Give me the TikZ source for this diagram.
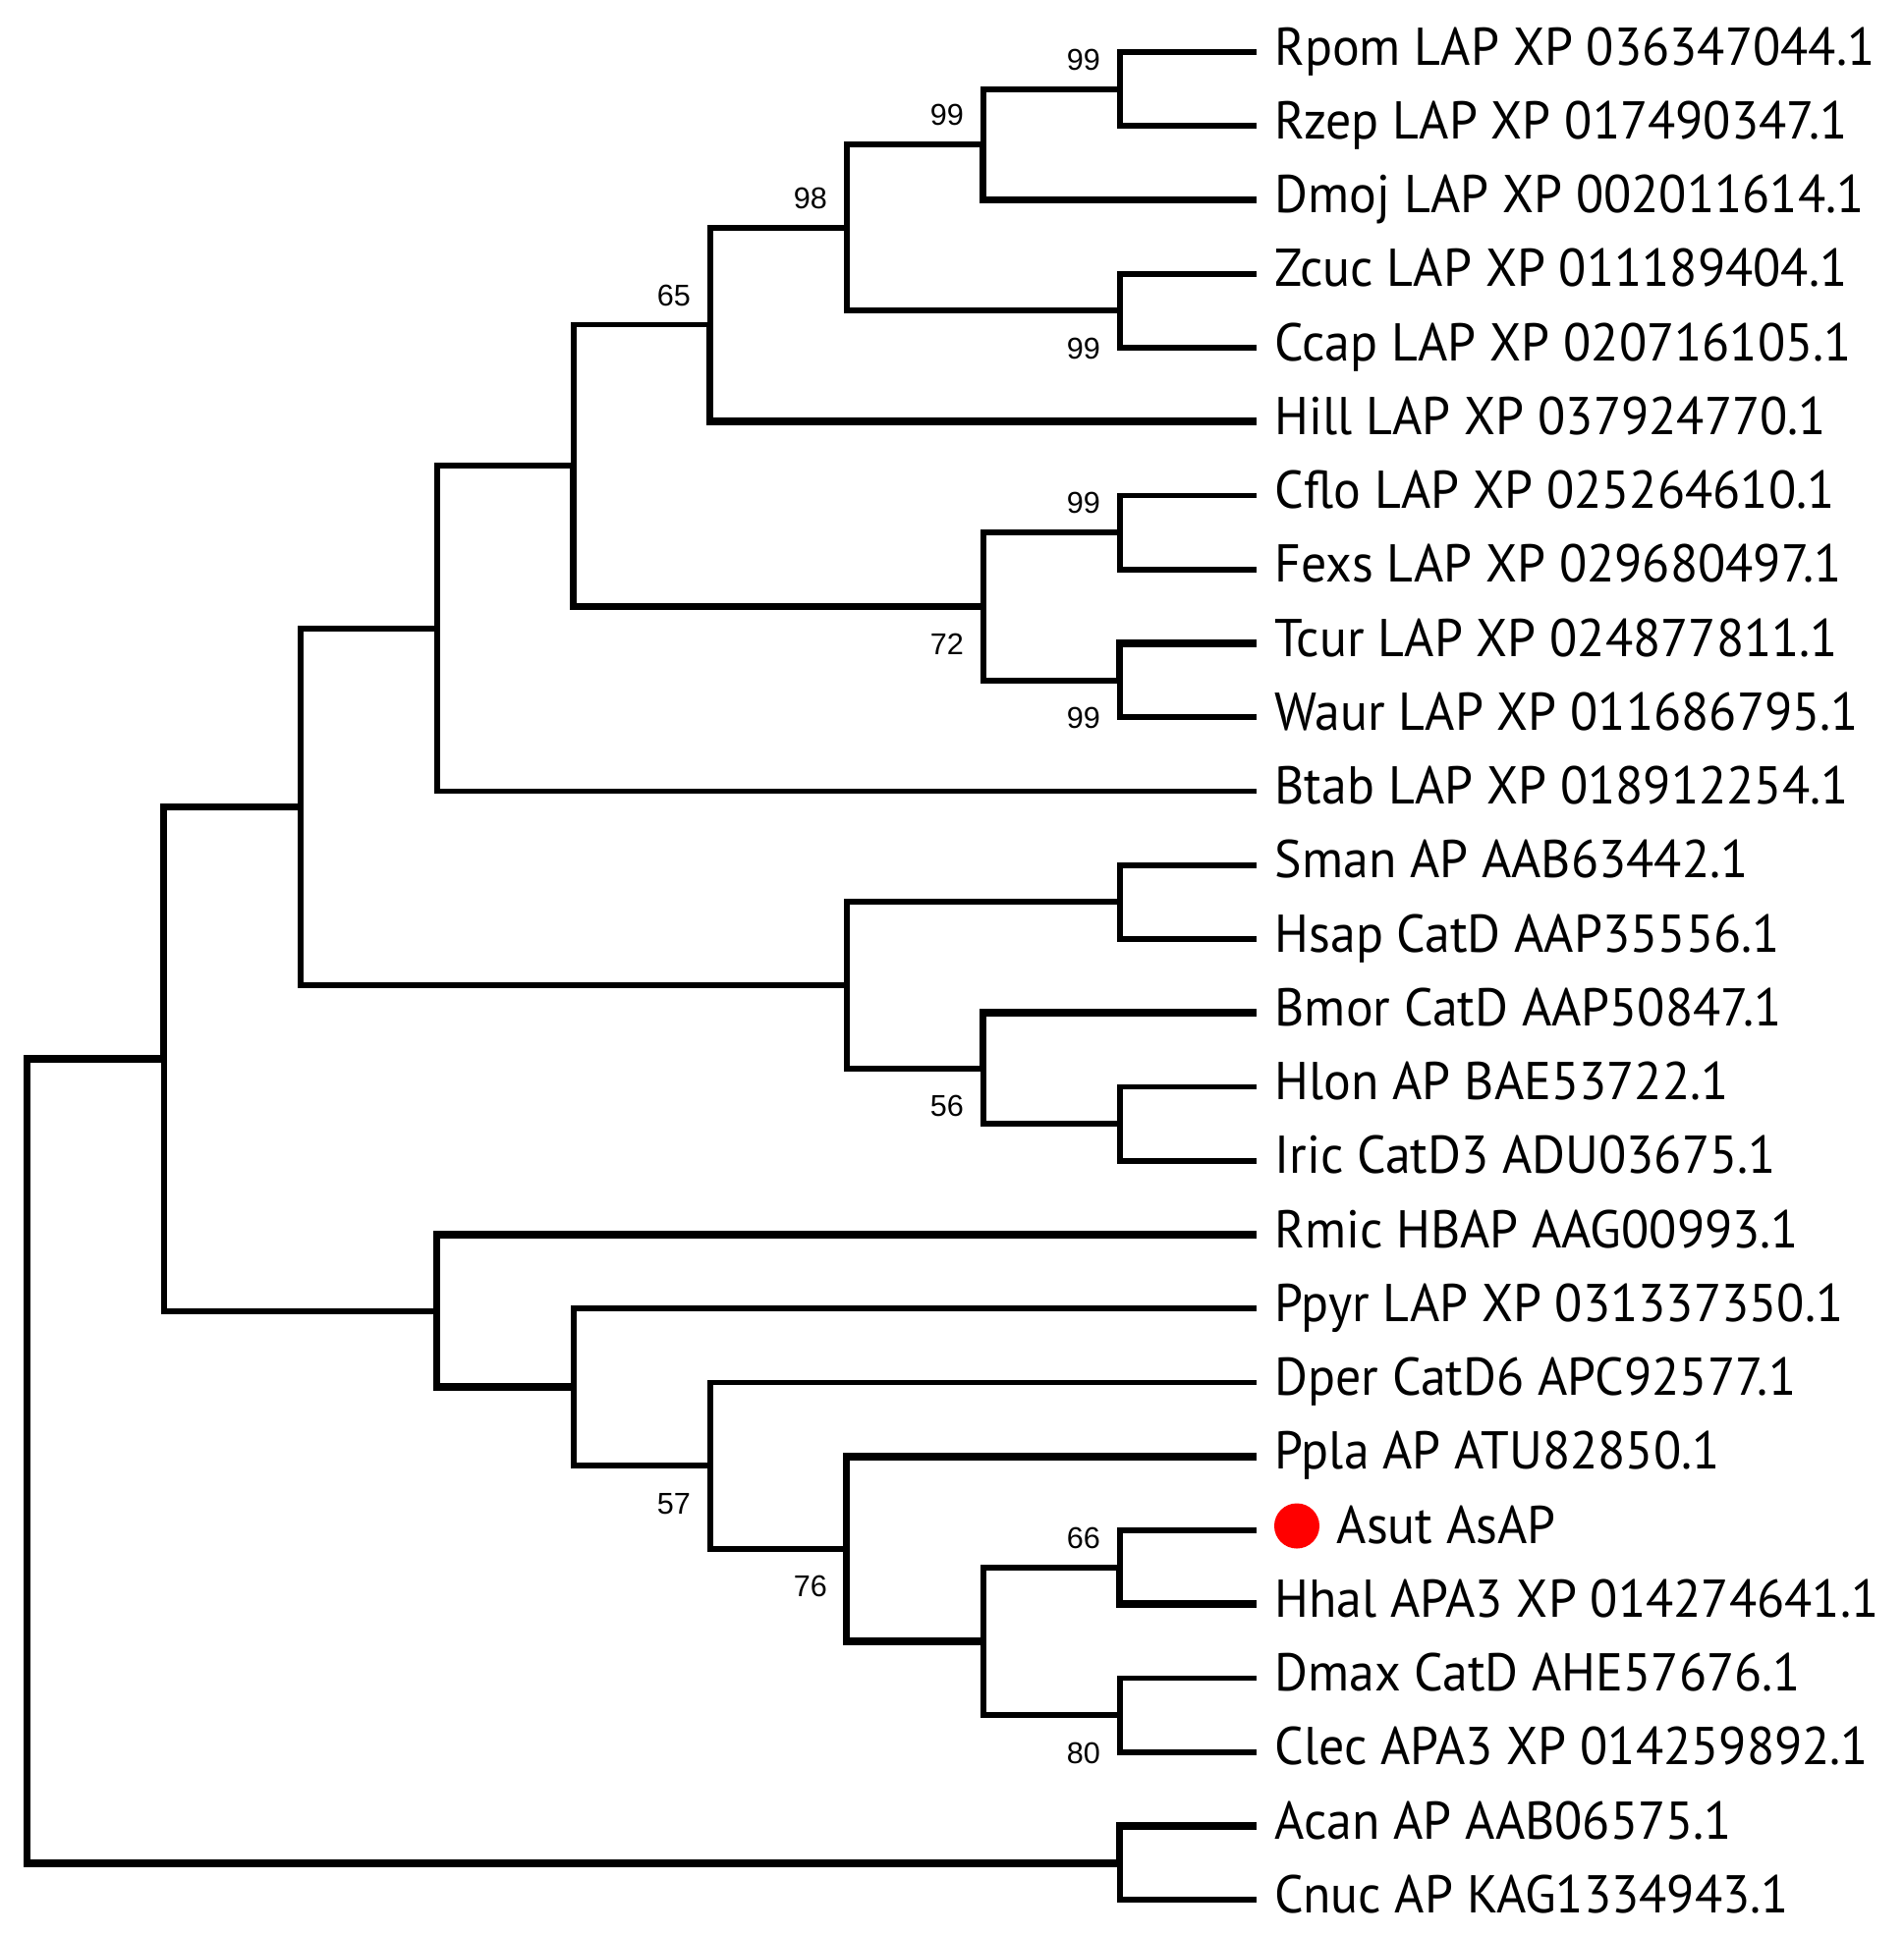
\documentclass[tikz,border=0pt]{standalone}
\usepackage{fontspec}
\usetikzlibrary{calc}
\newfontfamily\leaffont{PT Sans}
\newfontfamily\bsfont{Liberation Sans}
\newcommand{\lf}[1]{\scalebox{0.957}[1]{#1}}
\begin{document}
\begin{tikzpicture}[x=0.01cm,y=-0.01cm,
  br/.style={line width=1.65pt,line join=miter,line cap=butt},
  brt/.style={line width=2.2pt,line join=miter,line cap=butt},
  leaf/.style={inner sep=0pt,anchor=base west,font=\leaffont\fontsize{15.4}{18}\selectfont},
  bs/.style={inner sep=0pt,font=\bsfont\fontsize{8.7}{10}\selectfont},
  up/.style={bs,anchor=east,xshift=-0.19cm,yshift=0.30cm},
  down/.style={bs,anchor=east,xshift=-0.19cm,yshift=-0.385cm}]
\useasboundingbox (0,0) rectangle (1938,1971);
% leaf tips and labels
\foreach \i/\t in {0/Rpom LAP XP 036347044.1,1/Rzep LAP XP 017490347.1,2/Dmoj LAP XP 002011614.1,
  3/Zcuc LAP XP 011189404.1,4/Ccap LAP XP 020716105.1,5/Hill LAP XP 037924770.1,
  6/Cflo LAP XP 025264610.1,7/Fexs LAP XP 029680497.1,8/Tcur LAP XP 024877811.1,
  9/Waur LAP XP 011686795.1,10/Btab LAP XP 018912254.1,11/Sman AP AAB63442.1,
  12/Hsap CatD AAP35556.1,13/Bmor CatD AAP50847.1,14/Hlon AP BAE53722.1,
  15/Iric CatD3 ADU03675.1,16/Rmic HBAP AAG00993.1,17/Ppyr LAP XP 031337350.1,
  18/Dper CatD6 APC92577.1,19/Ppla AP ATU82850.1,21/Hhal APA3 XP 014274641.1,
  22/Dmax CatD AHE57676.1,23/Clec APA3 XP 014259892.1,24/Acan AP AAB06575.1,
  25/Cnuc AP KAG1334943.1}{
  \coordinate (t\i) at (1279,{53+75.25*\i});
  \node[leaf] (l\i) at (1297,{53+75.25*\i+13}) {\lf{\t}};
}
\coordinate (t20) at (1279,1558);
\node[circle,fill=red,inner sep=0pt,minimum width=0.46cm,minimum height=0.46cm] (dot) at (1320,1553.5) {};
\node[leaf] (l20) at (1360,1571) {\lf{Asut AsAP}};
% internal nodes
\coordinate (H) at (1139.6,90.625);
\coordinate (G) at (1000.6,147.06);
\coordinate (I) at (1139.6,316.375);
\coordinate (F) at (861.6,231.72);
\coordinate (E) at (722.6,330.48);
\coordinate (K) at (1139.6,542.125);
\coordinate (L) at (1139.6,692.625);
\coordinate (J) at (1000.6,617.375);
\coordinate (D) at (583.6,473.93);
\coordinate (C) at (444.6,639.71);
\coordinate (N) at (1139.6,918.375);
\coordinate (P) at (1139.6,1144.125);
\coordinate (O) at (1000.6,1087.69);
\coordinate (M) at (861.6,1003.03);
\coordinate (B) at (305.6,821.37);
\coordinate (V) at (1139.6,1595.625);
\coordinate (W) at (1139.6,1746.125);
\coordinate (U) at (1000.6,1670.875);
\coordinate (T) at (861.6,1576.81);
\coordinate (S) at (722.6,1492.16);
\coordinate (R) at (583.6,1412.2);
\coordinate (Q) at (444.6,1334.6);
\coordinate (A) at (166.6,1077.99);
\coordinate (X) at (1139.6,1896.625);
\coordinate (Z) at (27.6,1487.3);
% branches
\draw[br] (H) |- (t0); \draw[br] (H) |- (t1);
\draw[br] (G) |- (H); \draw[brt] (G) |- (t2);
\draw[br] (I) |- (t3); \draw[br] (I) |- (t4);
\draw[br] (F) |- (G); \draw[br] (F) |- (I);
\draw[br] (E) |- (F); \draw[brt] (E) |- (t5);
\draw[br] (K) |- (t6); \draw[br] (K) |- (t7);
\draw[brt] (L) |- (t8); \draw[br] (L) |- (t9);
\draw[br] (J) |- (K); \draw[br] (J) |- (L);
\draw[br] (D) |- (E); \draw[brt] (D) |- (J);
\draw[br] (C) |- (D); \draw[br] (C) |- (t10);
\draw[br] (N) |- (t11); \draw[br] (N) |- (t12);
\draw[br] (P) |- (t14); \draw[br] (P) |- (t15);
\draw[brt] (O) |- (t13); \draw[br] (O) |- (P);
\draw[br] (M) |- (N); \draw[br] (M) |- (O);
\draw[br] (B) |- (C); \draw[br] (B) |- (M);
\draw[br] (V) |- (t20); \draw[brt] (V) |- (t21);
\draw[br] (W) |- (t22); \draw[br] (W) |- (t23);
\draw[br] (U) |- (V); \draw[br] (U) |- (W);
\draw[brt] (T) |- (t19); \draw[brt] (T) |- (U);
\draw[br] (S) |- (t18); \draw[br] (S) |- (T);
\draw[br] (R) |- (t17); \draw[br] (R) |- (S);
\draw[brt] (Q) |- (t16); \draw[brt] (Q) |- (R);
\draw[brt] (A) |- (B); \draw[br] (A) |- (Q);
\draw[brt] (X) |- (t24); \draw[br] (X) |- (t25);
\draw[brt] (Z) |- (A); \draw[brt] (Z) |- (X);
% bootstrap values
\node[up] (bH) at (H) {99};
\node[up] (bG) at (G) {99};
\node[up] (bF) at (F) {98};
\node[up] (bE) at (E) {65};
\node[down] (bI) at (I) {99};
\node[up] (bK) at (K) {99};
\node[down] (bJ) at (J) {72};
\node[down] (bL) at (L) {99};
\node[down] (bO) at (O) {56};
\node[down] (bS) at (S) {57};
\node[down] (bT) at (T) {76};
\node[up] (bV) at (V) {66};
\node[down] (bW) at (W) {80};
\end{tikzpicture}
\end{document}
